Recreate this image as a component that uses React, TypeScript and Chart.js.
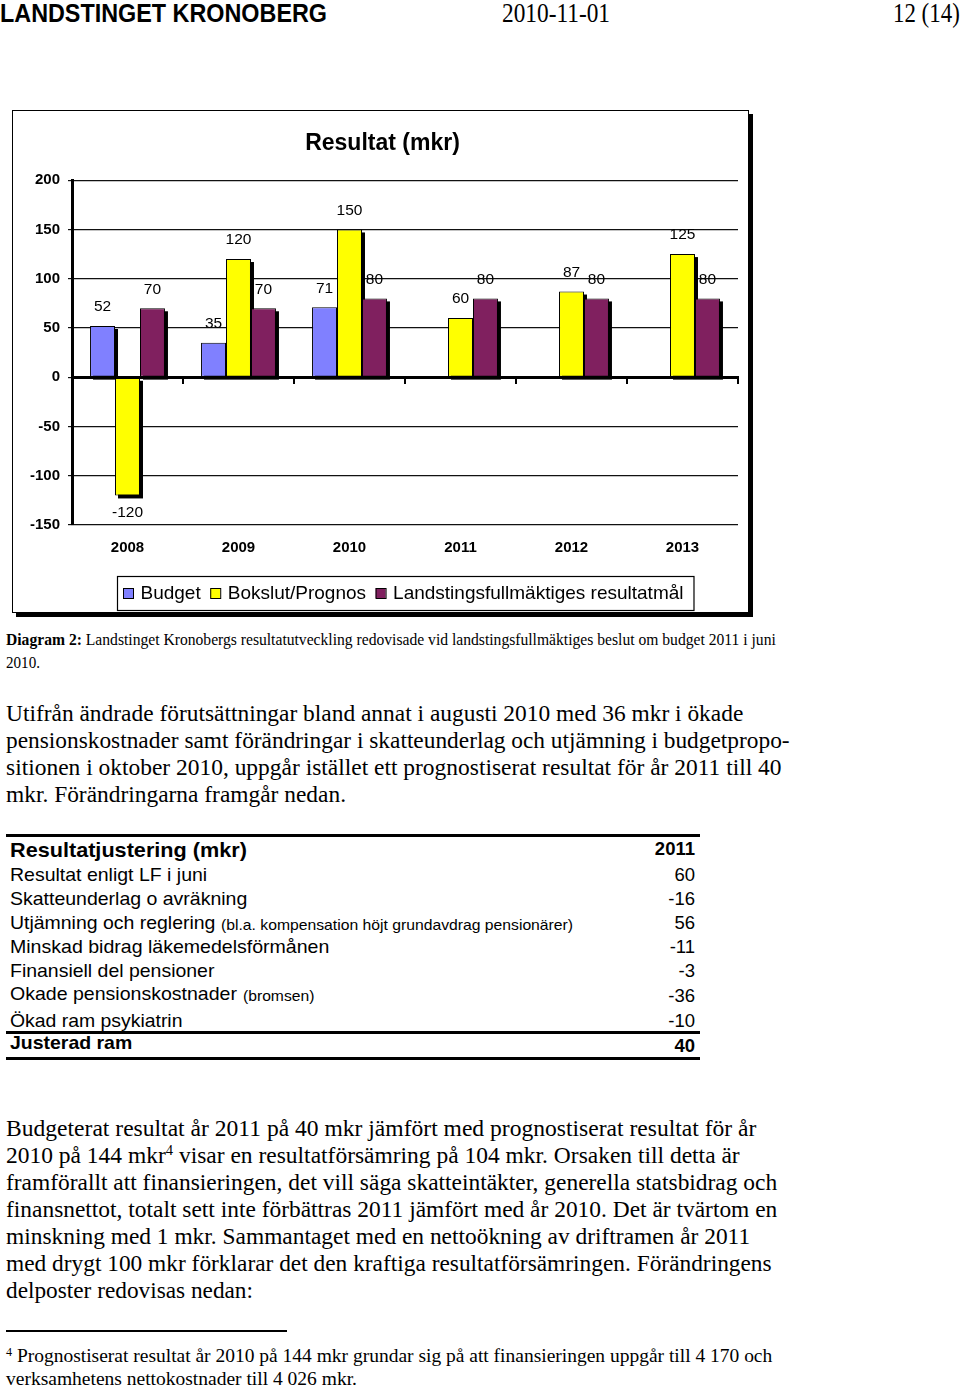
import React, { useEffect, useLayoutEffect, useRef } from 'react';
import { Chart, registerables } from 'chart.js';

Chart.register(...registerables);

// ---------- chart data ----------
const years = ['2008', '2009', '2010', '2011', '2012', '2013'];
const budget = [52, 35, 71, null, null, null];
const bokslut = [-120, 120, 150, 60, 87, 125];
const resultatmal = [70, 70, 80, 80, 80, 80];
const seriesNames = ['Budget', 'Bokslut/Prognos', 'Landstingsfullmäktiges resultatmål'];
const seriesColors = ['#8080FF', '#FFFF00', '#80205F'];
const yMin = -150;
const yMax = 200;
const yStep = 50;
const chartTitle = 'Resultat (mkr)';

// ---------- table data ----------
const tableTitle = 'Resultatjustering (mkr)';
const tableYear = '2011';
const rowLabels = [
  'Resultat enligt LF i juni',
  'Skatteunderlag o avräkning',
  'Utjämning och reglering',
  'Minskad bidrag läkemedelsförmånen',
  'Finansiell del pensioner',
  'Okade pensionskostnader',
  'Ökad ram psykiatrin',
];
const rowNotes = ['', '', '(bl.a. kompensation höjt grundavdrag pensionärer)', '', '', '(bromsen)', ''];
const rowValues = [60, -16, 56, -11, -3, -36, -10];
const totalLabel = 'Justerad ram';
const totalValue = 40;

// ---------- text ----------
const para1 = [
  'Utifrån ändrade förutsättningar bland annat i augusti 2010 med 36 mkr i ökade',
  'pensionskostnader samt förändringar i skatteunderlag och utjämning i budgetpropo-',
  'sitionen i oktober 2010, uppgår istället ett prognostiserat resultat för år 2011 till 40',
  'mkr. Förändringarna framgår nedan.',
];
const para2 = [
  'Budgeterat resultat år 2011 på 40 mkr jämfört med prognostiserat resultat för år',
  '2010 på 144 mkr',
  'framförallt att finansieringen, det vill säga skatteintäkter, generella statsbidrag och',
  'finansnettot, totalt sett inte förbättras 2011 jämfört med år 2010. Det är tvärtom en',
  'minskning med 1 mkr. Sammantaget med en nettoökning av driftramen år 2011',
  'med drygt 100 mkr förklarar det den kraftiga resultatförsämringen. Förändringens',
  'delposter redovisas nedan:',
];
const para2Line2Rest = ' visar en resultatförsämring på 104 mkr. Orsaken till detta är';

// ---------- layout ----------
const SANS = '"Liberation Sans", Arial, sans-serif';
const SERIF = '"Liberation Serif", "Times New Roman", serif';
const para1Y = [713, 740, 767, 794];
const para1W = [737, 784, 776, 340];
const para2Y = [1128, 1155, 1182, 1209, 1236, 1263, 1290];
const para2W = [750, 734, 771, 771, 744, 766, 247];
const rowY = [875, 899, 923, 947, 971, 994, 1021];
const valY = [875, 899, 923, 947, 971, 996, 1021];
const rowW = [197, 237, 205, 319, 204, 227, 173];
const noteX = [0, 0, 221, 0, 0, 243, 0];
const noteW = [0, 0, 352, 0, 0, 71, 0];

type FitProps = {
  x?: number;
  right?: number;
  y: number;
  w?: number;
  size: number;
  serif?: boolean;
  bold?: boolean;
  children: React.ReactNode;
};

function FitText({ x, right, y, w, size, serif, bold, children }: FitProps) {
  const ref = useRef<HTMLDivElement>(null);
  useLayoutEffect(() => {
    const el = ref.current;
    if (!el || !w) return;
    const nat = el.offsetWidth;
    if (nat > 0) el.style.transform = `translateY(-50%) scaleX(${w / nat})`;
  }, [w]);
  const style: React.CSSProperties = {
    position: 'absolute',
    top: y,
    whiteSpace: 'nowrap',
    fontSize: size,
    lineHeight: 1,
    fontFamily: serif ? SERIF : SANS,
    fontWeight: bold ? 'bold' : 'normal',
    transform: 'translateY(-50%)',
    transformOrigin: right !== undefined ? '100% 50%' : '0 50%',
    color: '#000',
  };
  if (right !== undefined) style.right = 960 - right;
  else style.left = x;
  return (
    <div ref={ref} style={style}>
      {children}
    </div>
  );
}

const Sup = ({ children }: { children: React.ReactNode }) => (
  <span style={{ fontSize: '0.62em', position: 'relative', top: '-0.55em' }}>{children}</span>
);

function ResultChart() {
  const ref = useRef<HTMLCanvasElement>(null);
  useEffect(() => {
    const canvas = ref.current;
    if (!canvas) return;

    const shadowPlugin = {
      id: 'barShadow',
      beforeDatasetsDraw(chart: any) {
        const ctx = chart.ctx;
        ctx.save();
        ctx.fillStyle = '#000';
        chart.data.datasets.forEach((ds: any, i: number) => {
          const meta = chart.getDatasetMeta(i);
          meta.data.forEach((bar: any, j: number) => {
            if (ds.data[j] == null) return;
            const p = bar.getProps(['x', 'y', 'base', 'width'], true);
            const top = Math.min(p.y, p.base);
            const h = Math.abs(p.base - p.y);
            ctx.fillRect(p.x - p.width / 2 + 3, top + 3, p.width, h);
          });
        });
        ctx.restore();
      },
    };

    const labelPlugin = {
      id: 'barLabels',
      afterDatasetsDraw(chart: any) {
        const ctx = chart.ctx;
        ctx.save();
        ctx.font = `15.5px ${SANS}`;
        ctx.fillStyle = '#000';
        ctx.textAlign = 'center';
        ctx.textBaseline = 'middle';
        chart.data.datasets.forEach((ds: any, i: number) => {
          const meta = chart.getDatasetMeta(i);
          meta.data.forEach((bar: any, j: number) => {
            const v = ds.data[j];
            if (v == null) return;
            const p = bar.getProps(['x', 'y'], true);
            const ty = v >= 0 ? p.y - 19 : p.y + 17;
            ctx.fillText(String(v), p.x, ty);
          });
        });
        ctx.restore();
      },
    };

    const legendPlugin = {
      id: 'boxLegend',
      afterDraw(chart: any) {
        const ctx = chart.ctx;
        ctx.save();
        ctx.font = `19px ${SANS}`;
        const left = 103;
        const top = 464;
        const bottom = 498;
        const cy = (top + bottom) / 2;
        let x = left + 6;
        const items = chart.data.datasets.map((ds: any) => ({
          text: ds.label as string,
          color: ds.backgroundColor as string,
        }));
        let end = x;
        const pos: number[] = [];
        items.forEach((it: any) => {
          pos.push(x);
          const w = ctx.measureText(it.text).width;
          end = x + 17.5 + w;
          x = end + 9.5;
        });
        const right = end + 10;
        ctx.fillStyle = '#fff';
        ctx.fillRect(left, top, right - left, bottom - top);
        ctx.strokeStyle = '#000';
        ctx.lineWidth = 1.2;
        ctx.strokeRect(left + 0.5, top + 0.5, right - left, bottom - top);
        items.forEach((it: any, i: number) => {
          const sx = pos[i];
          ctx.fillStyle = it.color;
          ctx.fillRect(sx, cy - 5, 10, 10);
          ctx.lineWidth = 1;
          ctx.strokeStyle = '#000';
          ctx.strokeRect(sx + 0.5, cy - 4.5, 10, 10);
          ctx.fillStyle = '#000';
          ctx.textAlign = 'left';
          ctx.textBaseline = 'middle';
          ctx.fillText(it.text, sx + 17.5, cy + 1);
        });
        ctx.restore();
      },
    };

    const tickFont = { family: SANS, size: 15, weight: 'bold' as const };

    const chart = new Chart(canvas, {
      type: 'bar',
      data: {
        labels: years,
        datasets: [
          { label: seriesNames[0], data: budget, backgroundColor: seriesColors[0], xAxisID: 'x', yAxisID: 'y' },
          { label: seriesNames[1], data: bokslut, backgroundColor: seriesColors[1], xAxisID: 'x', yAxisID: 'y' },
          { label: seriesNames[2], data: resultatmal, backgroundColor: seriesColors[2], xAxisID: 'x', yAxisID: 'y' },
        ],
      },
      options: {
        animation: false,
        responsive: false,
        events: [],
        layout: { padding: { left: 13, right: 10, top: 0, bottom: 47 } },
        datasets: {
          bar: {
            categoryPercentage: 0.675,
            barPercentage: 1,
            borderColor: '#000',
            borderWidth: 1,
            borderSkipped: false,
          },
        },
        scales: {
          x: {
            type: 'category',
            position: 'bottom',
            grid: { display: false, drawTicks: false },
            border: { display: false },
            ticks: { font: tickFont, color: '#000', padding: 14, maxRotation: 0, autoSkip: false },
            afterFit: (s: any) => {
              s.height = 40;
            },
          },
          x0: {
            type: 'category',
            axis: 'x',
            position: { y: 0 },
            offset: true,
            grid: {
              offset: true,
              drawOnChartArea: false,
              drawTicks: true,
              tickLength: 5,
              color: '#000',
              lineWidth: 2,
              z: 1,
            },
            border: { display: true, color: '#000', width: 3, z: 1 },
            ticks: { display: false },
          } as any,
          y: {
            min: yMin,
            max: yMax,
            ticks: { stepSize: yStep, font: tickFont, color: '#000', padding: 8 },
            grid: { color: '#111', lineWidth: 1.2, tickLength: 4 },
            border: { color: '#000', width: 3 },
            afterFit: (s: any) => {
              s.width = 45;
            },
          },
        },
        plugins: {
          legend: { display: false },
          tooltip: { enabled: false },
          title: {
            display: true,
            text: chartTitle,
            color: '#000',
            font: { family: SANS, size: 23, weight: 'bold' },
            padding: { top: 17.8, bottom: 22.8 },
          },
        },
      } as any,
      plugins: [shadowPlugin, labelPlugin, legendPlugin],
    });
    return () => chart.destroy();
  }, []);
  return (
    <canvas
      ref={ref}
      width={734}
      height={500}
      style={{ position: 'absolute', left: 14, top: 112, width: 734, height: 500 }}
    />
  );
}

export default function App() {
  return (
    <div
      style={{
        position: 'absolute',
        left: 0,
        top: 0,
        width: 960,
        height: 1388,
        background: '#fff',
        overflow: 'hidden',
      }}
    >
      {/* header */}
      <FitText x={0} y={13} w={327} size={26} bold>
        LANDSTINGET KRONOBERG
      </FitText>
      <FitText x={502} y={13} w={108} size={27} serif>
        2010-11-01
      </FitText>
      <FitText x={893} y={13} w={67} size={27} serif>
        12 (14)
      </FitText>

      {/* chart frame */}
      <div
        style={{
          position: 'absolute',
          left: 12,
          top: 110,
          width: 737,
          height: 503,
          boxSizing: 'border-box',
          border: '1.5px solid #000',
          boxShadow: '4px 4px 0 #000',
          background: '#fff',
        }}
      />
      <ResultChart />

      {/* caption */}
      <FitText x={6} y={640} w={770} size={16} serif>
        <b>Diagram 2:</b> Landstinget Kronobergs resultatutveckling redovisade vid landstingsfullmäktiges beslut om
        budget 2011 i juni
      </FitText>
      <FitText x={6} y={663} w={34} size={16} serif>
        2010.
      </FitText>

      {/* paragraph 1 */}
      {para1.map((t, i) => (
        <FitText key={'p1' + i} x={6} y={para1Y[i]} w={para1W[i]} size={23} serif>
          {t}
        </FitText>
      ))}

      {/* table */}
      <div style={{ position: 'absolute', left: 6, top: 834, width: 694, height: 3, background: '#000' }} />
      <FitText x={10} y={849} w={237} size={21} bold>
        {tableTitle}
      </FitText>
      <FitText right={695} y={849} size={18.5} bold>
        {tableYear}
      </FitText>
      {rowLabels.map((t, i) => (
        <React.Fragment key={'r' + i}>
          <FitText x={10} y={rowY[i]} w={rowW[i]} size={18.5}>
            {t}
          </FitText>
          {rowNotes[i] ? (
            <FitText x={noteX[i]} y={rowY[i] + 1} w={noteW[i]} size={15}>
              {rowNotes[i]}
            </FitText>
          ) : null}
          <FitText right={695} y={valY[i]} size={18.5}>
            {String(rowValues[i])}
          </FitText>
        </React.Fragment>
      ))}
      <div style={{ position: 'absolute', left: 6, top: 1031, width: 694, height: 2.5, background: '#000' }} />
      <FitText x={10} y={1043} w={122} size={18.5} bold>
        {totalLabel}
      </FitText>
      <FitText right={695} y={1046} size={18.5} bold>
        {String(totalValue)}
      </FitText>
      <div style={{ position: 'absolute', left: 6, top: 1057, width: 694, height: 3, background: '#000' }} />

      {/* paragraph 2 */}
      {para2.map((t, i) => (
        <FitText key={'p2' + i} x={6} y={para2Y[i]} w={para2W[i]} size={23} serif>
          {i === 1 ? (
            <>
              {t}
              <Sup>4</Sup>
              {para2Line2Rest}
            </>
          ) : (
            t
          )}
        </FitText>
      ))}

      {/* footnote */}
      <div style={{ position: 'absolute', left: 6, top: 1330, width: 281, height: 1.5, background: '#000' }} />
      <FitText x={6} y={1355} w={766} size={19} serif>
        <Sup>4</Sup> Prognostiserat resultat år 2010 på 144 mkr grundar sig på att finansieringen uppgår till 4 170 och
      </FitText>
      <FitText x={6} y={1378} w={351} size={19} serif>
        verksamhetens nettokostnader till 4 026 mkr.
      </FitText>
    </div>
  );
}
